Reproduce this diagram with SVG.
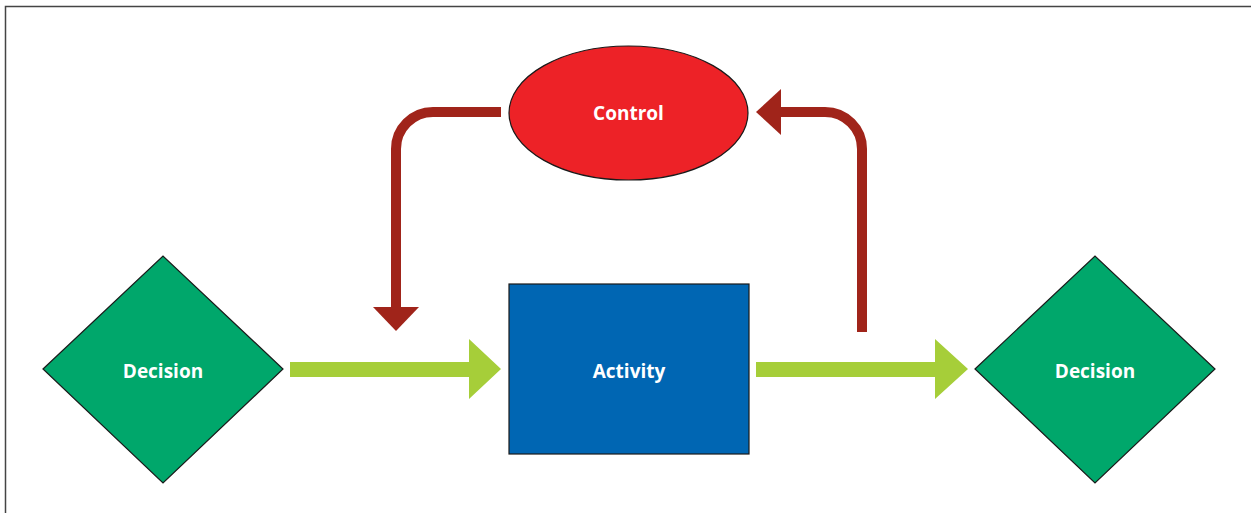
<svg xmlns="http://www.w3.org/2000/svg" width="1251" height="513" viewBox="0 0 1251 513">
<defs>
<style>
.lbl{font-family:"Open Sans","Noto Sans","Liberation Sans",sans-serif;font-weight:bold;font-size:19px;fill:#ffffff;text-anchor:middle}
.node{stroke:#1a1a1a;stroke-width:1.2}
.ctl{fill:none;stroke:#A0241A;stroke-width:10}
.ctlhead{fill:#A0241A}
.flow{fill:#A6CE39}
</style>
</defs>
<rect x="0" y="0" width="1251" height="513" fill="#ffffff"/>
<rect x="5.5" y="6.5" width="1260" height="520" fill="none" stroke="#444444" stroke-width="1.5"/>
<g id="connectors">
<path class="ctl" d="M501,112 H433 A37,37 0 0 0 396,149 V307"/>
<polygon class="ctlhead" points="373,307 419,307 396,331"/>
<path class="ctl" d="M862,332 V149 A37,37 0 0 0 825,112 H781"/>
<polygon class="ctlhead" points="781,89 781,135 756,112"/>
<polygon class="flow" points="290,362 469,362 469,339 501,369 469,399 469,377 290,377"/>
<polygon class="flow" points="756,362 935,362 935,339 968,369 935,399 935,377 756,377"/>
</g>
<g id="decision-left">
<polygon class="node" fill="#00A76B" points="43,369 163,256 283,369 163,483"/>
<text class="lbl" x="163" y="377.5">Decision</text>
</g>
<g id="activity">
<rect class="node" fill="#0066B3" x="509" y="284" width="240" height="170"/>
<text class="lbl" x="629" y="377.5">Activity</text>
</g>
<g id="control">
<ellipse class="node" fill="#ED2227" cx="628.5" cy="113" rx="119.5" ry="67"/>
<text class="lbl" x="628.5" y="120">Control</text>
</g>
<g id="decision-right">
<polygon class="node" fill="#00A76B" points="975,369 1095,256 1215,369 1095,483"/>
<text class="lbl" x="1095" y="377.5">Decision</text>
</g>
</svg>
